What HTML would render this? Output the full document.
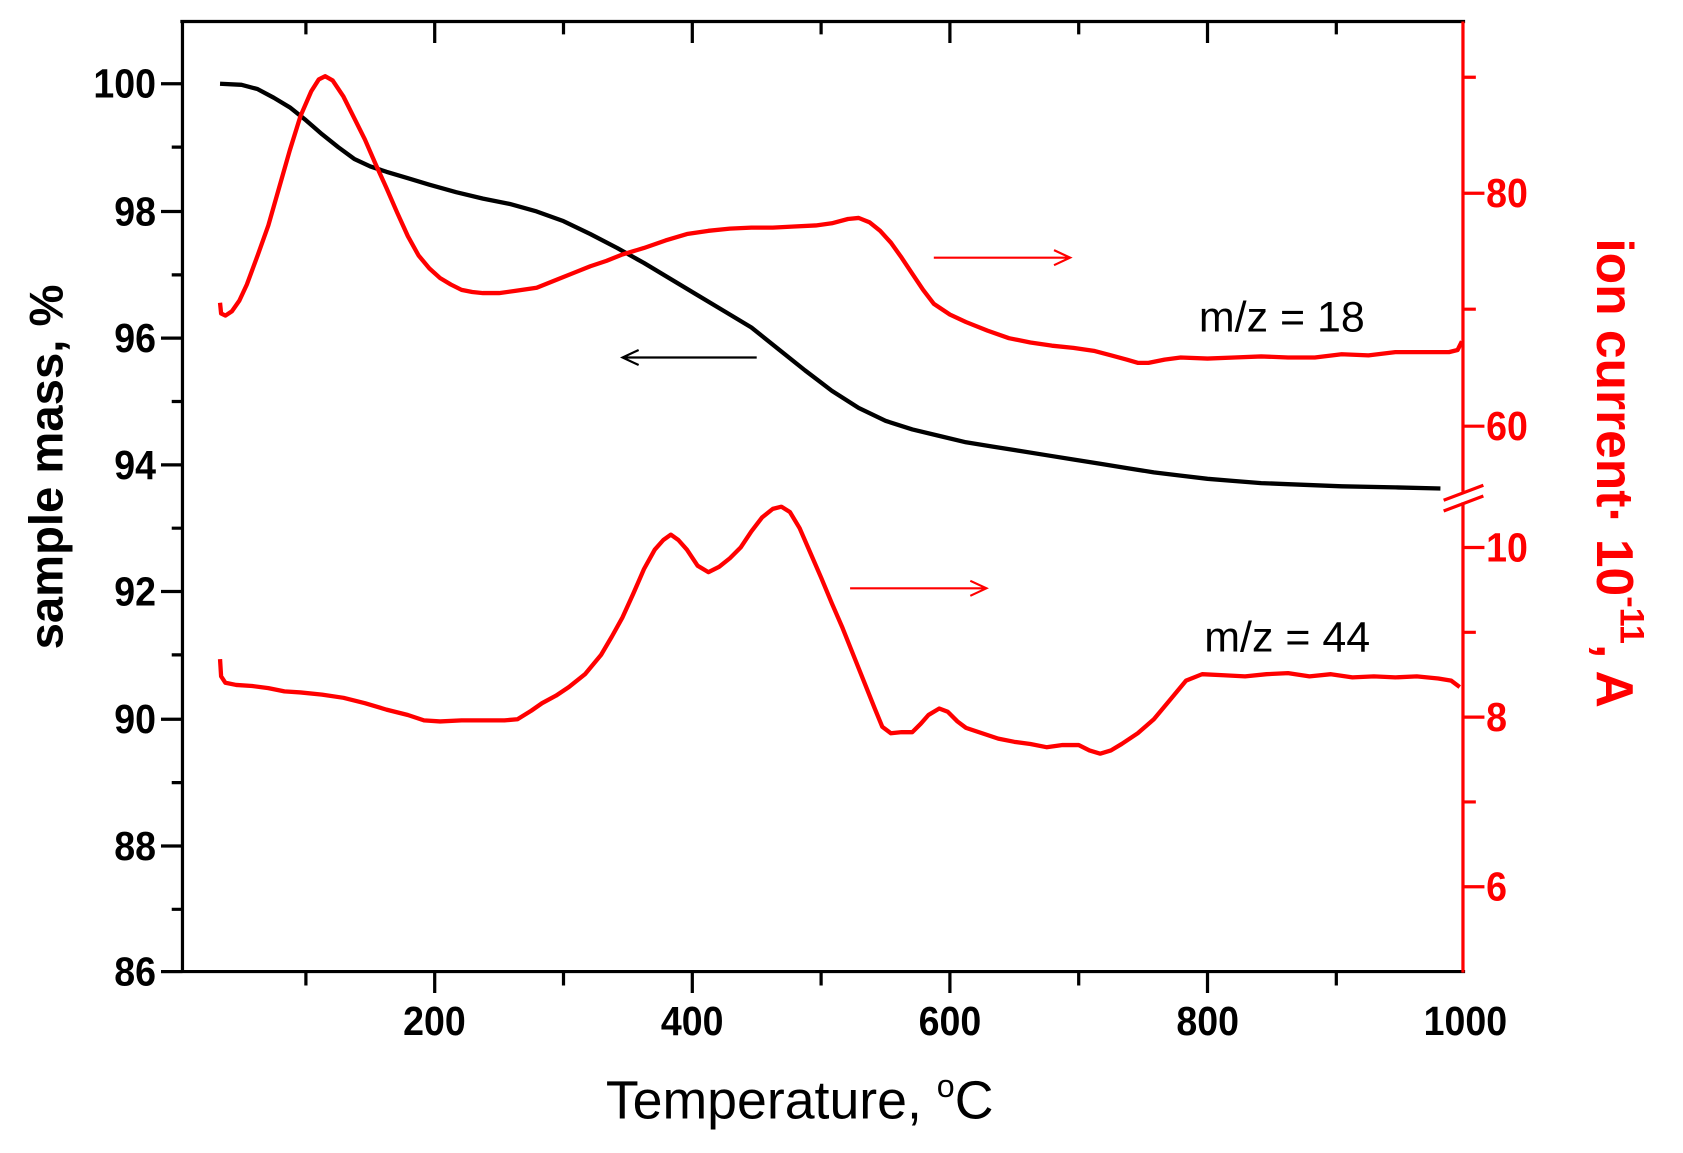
<!DOCTYPE html>
<html><head><meta charset="utf-8"><style>
html,body{margin:0;padding:0;background:#fff;}
svg{display:block;}
text{font-family:"Liberation Sans",Arial,sans-serif;}
</style></head><body>
<svg width="1683" height="1153" viewBox="0 0 1568 1074" preserveAspectRatio="none" xmlns="http://www.w3.org/2000/svg">
<rect width="1568" height="1074" fill="#fff"/>
<g stroke="#000" stroke-width="3" fill="none">
<line x1="168" y1="20" x2="1365" y2="20"/>
<line x1="170" y1="20" x2="170" y2="906"/>
<line x1="150" y1="905" x2="1365" y2="905"/>
<path d="M150 78H170M150 197H170M150 315H170M150 433H170M150 551H170M150 670H170M150 788H170M150 905H170"/>
<path d="M160 137H170M160 256H170M160 374H170M160 492H170M160 610H170M160 729H170M160 847H170"/>
<path d="M405 905V925M645 905V925M885 905V925M1125 905V925"/>
<path d="M285 905V918M525 905V918M765 905V918M1005 905V918M1245 905V918"/>
<path d="M405 20V40M645 20V40M885 20V40M1125 20V40"/>
<path d="M285 20V32M525 20V32M765 20V32M1005 20V32M1245 20V32"/>
</g>
<g font-weight="bold" font-size="38" fill="#000" text-anchor="end" transform="scale(0.92,1)">
<text x="158" y="91">100</text><text x="158" y="210">98</text><text x="158" y="328">96</text><text x="158" y="446">94</text><text x="158" y="564">92</text><text x="158" y="683">90</text><text x="158" y="801">88</text><text x="158" y="918">86</text>
</g>
<g font-weight="bold" font-size="38" fill="#000" text-anchor="middle" transform="scale(0.92,1)">
<text x="440" y="964">200</text><text x="701" y="964">400</text><text x="962" y="964">600</text><text x="1223" y="964">800</text><text x="1484" y="964">1000</text>
</g>
<text x="745" y="1042" font-size="50" text-anchor="middle" fill="#000">Temperature, <tspan font-size="30" dy="-20">o</tspan><tspan dy="20">C</tspan></text>
<text transform="translate(58,435) rotate(-90)" font-size="44" font-weight="bold" text-anchor="middle" fill="#000">sample mass, %</text>
<g stroke="#f00" stroke-width="3" fill="none">
<line x1="1363" y1="20" x2="1363" y2="458"/>
<line x1="1363" y1="468" x2="1363" y2="906"/>
<path d="M1363 180H1383M1363 397H1383M1363 510H1383M1363 668H1383M1363 826H1383"/>
<path d="M1363 72H1375M1363 288H1375M1363 589H1375M1363 747H1375"/>
<path d="M1345 466L1382 452M1345 476L1382 462"/>
</g>
<g font-weight="bold" font-size="38" fill="#f00" transform="scale(0.92,1)">
<text x="1505" y="193">80</text><text x="1505" y="410">60</text><text x="1505" y="523">10</text><text x="1505" y="681">8</text><text x="1505" y="839">6</text>
</g>
<text transform="translate(1488,222) rotate(90)" font-size="48" font-weight="bold" fill="#f00">ion current· 10<tspan font-size="32" dy="-22">-11</tspan><tspan dy="22">, A</tspan></text>
<polyline fill="none" stroke="#000" stroke-width="4" stroke-linejoin="round" points="205,78 225,79 240,83 255,91 270,100 285,112 300,125 315,137 330,148 345,155 360,160 380,166 400,172 425,179 450,185 475,190 500,197 525,206 550,218 575,231 600,245 625,260 650,275 675,290 700,305 725,325 750,345 775,364 800,380 825,392 850,400 875,406 900,412 925,416 950,420 975,424 1000,428 1025,432 1050,436 1075,440 1100,443 1125,446 1150,448 1175,450 1200,451 1250,453 1300,454 1342,455"/>
<polyline fill="none" stroke="#f00" stroke-width="4" stroke-linejoin="round" points="205,282 206,292 210,294 216,290 223,280 230,265 240,238 250,210 260,175 270,140 280,108 290,85 297,74 303,71 310,75 320,90 330,110 340,130 350,153 360,175 370,198 380,220 390,238 400,250 410,259 420,265 430,270 440,272 450,273 465,273 480,271 500,268 520,260 535,254 550,248 565,243 580,237 600,231 620,224 640,218 660,215 680,213 700,212 720,212 740,211 760,210 775,208 790,204 800,203 810,207 820,215 830,226 840,240 850,255 860,270 870,283 885,293 900,300 920,308 940,315 960,319 980,322 1000,324 1020,327 1035,331 1050,335 1060,338 1070,338 1085,335 1100,333 1125,334 1150,333 1175,332 1200,333 1225,333 1250,330 1275,331 1300,328 1325,328 1350,328 1358,326 1362,318"/>
<polyline fill="none" stroke="#f00" stroke-width="4" stroke-linejoin="round" points="205,614 206,630 210,636 220,638 235,639 250,641 265,644 280,645 300,647 320,650 340,655 360,661 380,666 395,671 410,672 430,671 450,671 470,671 482,670 495,662 505,655 518,648 530,640 545,628 560,610 570,593 580,575 590,553 600,530 610,512 618,503 625,498 632,503 640,512 650,527 660,533 670,528 680,520 690,510 700,495 710,482 720,474 728,472 736,477 745,492 755,515 765,538 775,562 785,585 795,610 805,635 815,660 822,677 830,683 840,682 850,682 858,674 865,666 875,660 883,663 892,672 900,678 915,683 930,688 945,691 960,693 975,696 990,694 1005,694 1015,699 1025,702 1035,699 1045,693 1060,683 1075,670 1090,652 1105,634 1120,628 1140,629 1160,630 1180,628 1200,627 1220,630 1240,628 1260,631 1280,630 1300,631 1320,630 1340,632 1352,634 1360,640"/>
<g stroke-width="2" fill="none">
<path d="M705 333H582M595 326L580 333L595 340" stroke="#000"/>
<path d="M870 240H995M982 233L997 240L982 247" stroke="#f00"/>
<path d="M792 548H917M904 541L919 548L904 555" stroke="#f00"/>
</g>
<g font-size="40" fill="#000">
<text x="1117" y="309">m/z = 18</text>
<text x="1122" y="607">m/z = 44</text>
</g>
</svg>
</body></html>
